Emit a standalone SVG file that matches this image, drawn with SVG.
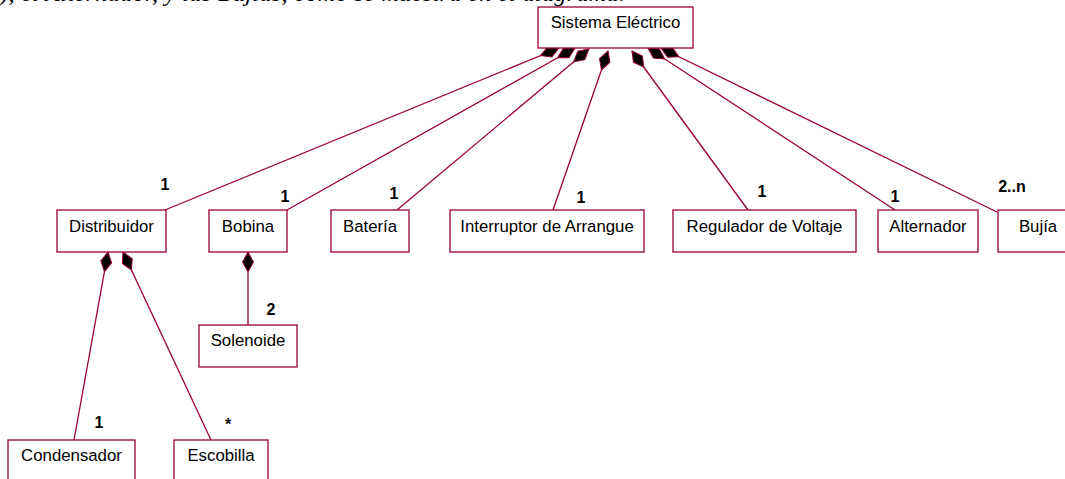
<svg xmlns="http://www.w3.org/2000/svg" width="1065" height="479" viewBox="0 0 1065 479">
<style>
.box{fill:#fff;stroke:#990033;stroke-width:1.3}
.lbl{font-family:"Liberation Sans",Arial,sans-serif;font-size:16.8px;fill:#000;text-anchor:middle}
.mul{font-family:"Liberation Sans",Arial,sans-serif;font-size:16px;font-weight:bold;fill:#000;text-anchor:middle}
.ln{stroke:#990033;stroke-width:1.3;fill:none;marker-end:url(#dia)}
.cut{font-family:"Liberation Serif","Times New Roman",serif;font-style:italic;font-size:24px;fill:#000}
</style>
<defs>
<marker id="dia" markerUnits="userSpaceOnUse" markerWidth="24" markerHeight="14" viewBox="0 0 24 14" refX="21" refY="7" orient="auto">
<path d="M1,7 L11,1.5 L21,7 L11,12.5 Z" fill="#000" stroke="#990033" stroke-width="1"/>
</marker>
</defs>
<text class="cut" x="0" y="0.5" textLength="625" lengthAdjust="spacing">), el Alternador, y las Bujías, como se muestra en el diagrama.</text>
<g id="connectors">
<path class="ln" d="M165,210 L559,48"/>
<path class="ln" d="M287,210 L575,48"/>
<path class="ln" d="M397,210 L589,49"/>
<path class="ln" d="M553,210 L608,51"/>
<path class="ln" d="M748,210 L632,51"/>
<path class="ln" d="M895,210 L648,48"/>
<path class="ln" d="M997,212 L661,48"/>
<path class="ln" d="M74,440 L108,252"/>
<path class="ln" d="M211,440 L123,252"/>
<path class="ln" d="M248,325 L248,252"/>
</g>
<g id="sistema"><rect class="box" x="538" y="7" width="155" height="41"/><text class="lbl" x="615.5" y="28">Sistema Eléctrico</text></g>
<g id="distribuidor"><rect class="box" x="57" y="210" width="109" height="42"/><text class="lbl" x="111.5" y="232">Distribuidor</text><text class="mul" x="165" y="190">1</text></g>
<g id="bobina"><rect class="box" x="209" y="210" width="78" height="42"/><text class="lbl" x="248" y="232">Bobina</text><text class="mul" x="285" y="202">1</text></g>
<g id="bateria"><rect class="box" x="331" y="210" width="78" height="42"/><text class="lbl" x="370" y="232">Batería</text><text class="mul" x="394" y="199">1</text></g>
<g id="interruptor"><rect class="box" x="450" y="210" width="194" height="42"/><text class="lbl" x="547" y="232">Interruptor de Arrangue</text><text class="mul" x="581" y="203">1</text></g>
<g id="regulador"><rect class="box" x="673" y="210" width="183" height="42"/><text class="lbl" x="764.5" y="232">Regulador de Voltaje</text><text class="mul" x="762" y="197">1</text></g>
<g id="alternador"><rect class="box" x="878" y="210" width="100" height="42"/><text class="lbl" x="928" y="232">Alternador</text><text class="mul" x="895" y="202">1</text></g>
<g id="bujia"><rect class="box" x="998" y="210" width="80" height="42"/><text class="lbl" x="1038" y="232">Bujía</text><text class="mul" x="1012" y="192">2..n</text></g>
<g id="solenoide"><rect class="box" x="199" y="325" width="98" height="42"/><text class="lbl" x="248" y="346">Solenoide</text><text class="mul" x="271" y="315">2</text></g>
<g id="condensador"><rect class="box" x="8" y="440" width="127" height="42"/><text class="lbl" x="71.5" y="461">Condensador</text><text class="mul" x="99" y="428">1</text></g>
<g id="escobilla"><rect class="box" x="174" y="440" width="94" height="42"/><text class="lbl" x="221" y="461">Escobilla</text><text class="mul" x="228" y="430">*</text></g>
</svg>
